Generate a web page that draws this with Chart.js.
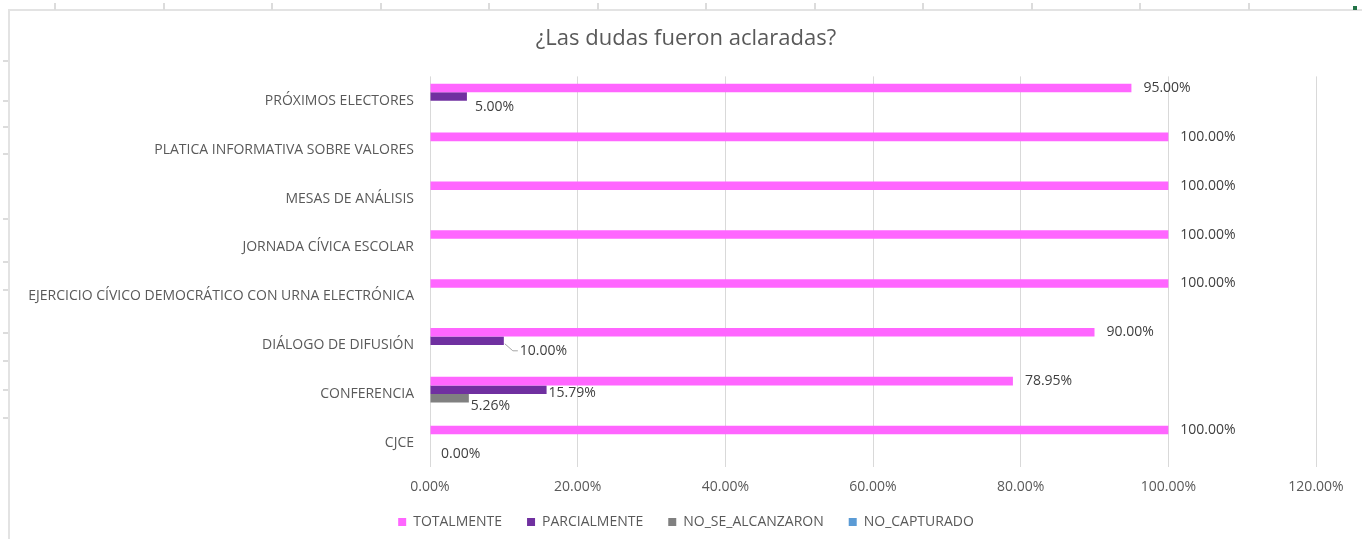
<!DOCTYPE html>
<html>
<head>
<meta charset="utf-8">
<script src="https://cdn.jsdelivr.net/npm/chart.js@4"></script>
<style>
  body { margin: 0; background: #ffffff; }
  .sheet { position: relative; width: 1362px; height: 539px; overflow: hidden; }
  .frame { position: absolute; left: 8px; top: 9px; width: 1360px; height: 540px;
           border-top: 2px solid #e3e3e3; border-left: 2px solid #e3e3e3; }
  .tick-v { position: absolute; top: 3px; width: 2px; height: 7px; background: #dcdcdc; }
  .tick-h { position: absolute; left: 3px; width: 5px; height: 2px; background: #dcdcdc; }
  .handle { position: absolute; left: 1353px; top: 6px; width: 4px; height: 4px; background: #217346; }
  canvas { position: absolute; left: 0; top: 0; }
</style>
</head>
<body>
<div class="sheet" id="sheet">
  <div class="frame"></div>
  <div class="handle"></div>
  <canvas id="dudasChart" width="1362" height="539"></canvas>
</div>
<script>
// categories, top to bottom
const categorias = [
  'PRÓXIMOS ELECTORES',
  'PLATICA INFORMATIVA SOBRE VALORES',
  'MESAS DE ANÁLISIS',
  'JORNADA CÍVICA ESCOLAR',
  'EJERCICIO CÍVICO DEMOCRÁTICO CON URNA ELECTRÓNICA',
  'DIÁLOGO DE DIFUSIÓN',
  'CONFERENCIA',
  'CJCE'
]
const totalmente      = [95, 100, 100, 100, 100, 90, 78.95, 100]
const parcialmente    = [5, null, null, null, null, 10, 15.79, 0]
const noSeAlcanzaron  = [null, null, null, null, null, null, 5.26, null]
const noCapturado     = [null, null, null, null, null, null, null, null]
const xTicks = [0, 20, 40, 60, 80, 100, 120]

const FONT = '"Open Sans", Lato, sans-serif'

// spreadsheet decoration (column / row marks)
const sheet = document.getElementById('sheet')
for (let x = 54; x < 1340; x += 108.5) {
  const d = document.createElement('div')
  d.className = 'tick-v'
  d.style.left = Math.round(x) + 'px'
  sheet.appendChild(d)
}
;[60, 100, 126, 153, 218, 261, 289, 332, 360, 389, 417].forEach(y => {
  const d = document.createElement('div')
  d.className = 'tick-h'
  d.style.top = y + 'px'
  sheet.appendChild(d)
})

const pct = v => v.toFixed(2) + '%'

// labels at the end of every bar, like the Excel data labels
const barLabels = {
  id: 'barLabels',
  afterDatasetsDraw(chart) {
    const ctx = chart.ctx
    ctx.save()
    ctx.font = '14px ' + FONT
    ctx.textAlign = 'left'
    ctx.textBaseline = 'middle'
    chart.data.datasets.forEach((ds, di) => {
      const meta = chart.getDatasetMeta(di)
      meta.data.forEach((bar, i) => {
        const v = ds.data[i]
        if (v === null || v === undefined) return
        ctx.fillStyle = '#404040'
        if (di === 0) {
          ctx.fillText(pct(v), bar.x + 12, bar.y)
        } else if (di === 1 && i === 5) {
          // leader line for DIÁLOGO DE DIFUSIÓN
          ctx.strokeStyle = '#a6a6a6'
          ctx.lineWidth = 1
          ctx.beginPath()
          ctx.moveTo(bar.x + 1, bar.y + 3)
          ctx.lineTo(bar.x + 9, bar.y + 10)
          ctx.lineTo(bar.x + 14, bar.y + 10)
          ctx.stroke()
          ctx.fillText(pct(v), bar.x + 16, bar.y + 10)
        } else if (di === 1 && i === 6) {
          ctx.fillText(pct(v), bar.x + 2, bar.y + 3)
        } else if (di === 2) {
          ctx.fillText(pct(v), bar.x + 2, bar.y + 8)
        } else if (i === 7) {
          ctx.fillText(pct(v), bar.x + 11, bar.y + 16)
        } else {
          ctx.fillText(pct(v), bar.x + 8, bar.y + 10)
        }
      })
    })
    ctx.restore()
  }
}

// Excel keeps the legend close to the axis labels, title and legend
// centred a bit right of the canvas middle
const boxShift = {
  id: 'boxShift',
  afterLayout(chart) {
    chart.legend.top -= 16
    chart.legend.bottom -= 16
    chart.legend.left += 28
    chart.legend.right += 28
    chart.titleBlock.left += 28
    chart.titleBlock.right += 28
  }
}

const ctx = document.getElementById('dudasChart').getContext('2d')
const chart = new Chart(ctx, {
  type: 'bar',
  data: {
    labels: categorias,
    datasets: [{
      label: 'TOTALMENTE',
      backgroundColor: '#ff66ff',
      data: totalmente
    }, {
      label: 'PARCIALMENTE',
      backgroundColor: '#7030a0',
      data: parcialmente
    }, {
      label: 'NO_SE_ALCANZARON',
      backgroundColor: '#808080',
      data: noSeAlcanzaron
    }, {
      label: 'NO_CAPTURADO',
      backgroundColor: '#5b9bd5',
      data: noCapturado
    }]
  },
  options: {
    indexAxis: 'y',
    responsive: false,
    animation: false,
    categoryPercentage: 0.7,
    barPercentage: 1,
    layout: {
      padding: { left: 0, right: 46, top: 0, bottom: -16 }
    },
    plugins: {
      title: {
        display: true,
        text: '¿Las dudas fueron aclaradas?',
        color: '#595959',
        font: { family: FONT, size: 22, weight: 'normal' },
        padding: { top: 26, bottom: 24 }
      },
      legend: {
        position: 'bottom',
        labels: {
          color: '#595959',
          font: { family: FONT, size: 14 },
          boxWidth: 8,
          boxHeight: 8,
          padding: 25
        }
      },
      tooltip: { enabled: false }
    },
    scales: {
      x: {
        min: 0,
        max: 120,
        afterBuildTicks: scale => { scale.ticks = xTicks.map(v => ({ value: v })) },
        grid: { color: '#d9d9d9', drawTicks: false },
        border: { display: false },
        ticks: {
          color: '#595959',
          font: { family: FONT, size: 14 },
          padding: 11,
          callback: v => pct(v)
        }
      },
      y: {
        afterFit: scale => { scale.width = 430 },
        grid: { display: false, drawTicks: false },
        border: { display: false },
        ticks: {
          color: '#595959',
          font: { family: FONT, size: 14 },
          padding: 16
        }
      }
    }
  },
  plugins: [barLabels, boxShift]
})
</script>
</body>
</html>
